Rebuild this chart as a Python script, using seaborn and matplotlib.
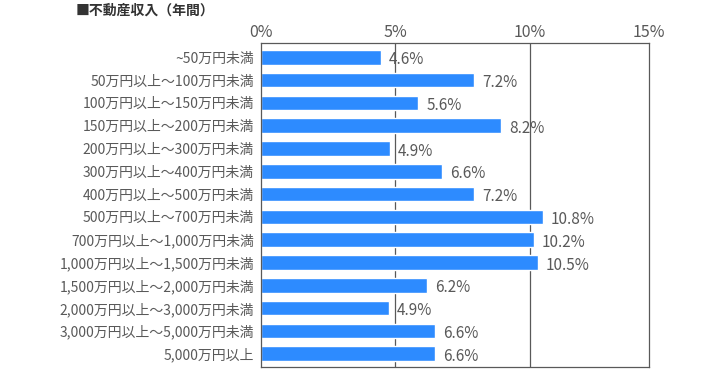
import numpy as np
import seaborn as sns
import pandas as pd
import matplotlib.pyplot as plt
import matplotlib.ticker as ticker

# Data
categories = ["~50万円未満", "50万円以上～100万円未満", "100万円以上～150万円未満",
              "150万円以上～200万円未満", "200万円以上～300万円未満", "300万円以上～400万円未満",
              "400万円以上～500万円未満", "500万円以上～700万円未満", "700万円以上～1,000万円未満",
              "1,000万円以上～1,500万円未満", "1,500万円以上～2,000万円未満",
              "2,000万円以上～3,000万円未満", "3,000万円以上～5,000万円未満", "5,000万円以上"]
# bar lengths as drawn in the picture (%)
bar_lengths = [4.46, 7.92, 5.84, 8.92, 4.80, 6.73, 7.92, 10.48, 10.15, 10.30, 6.17, 4.76, 6.47, 6.47]
# printed labels
labels = ["4.6%", "7.2%", "5.6%", "8.2%", "4.9%", "6.6%", "7.2%", "10.8%", "10.2%",
          "10.5%", "6.2%", "4.9%", "6.6%", "6.6%"]
xmax = 14.43
xticks = [0, 5, 10, xmax]
xticklabels = ["0%", "5%", "10%", "15%"]
title = "■不動産収入（年間）"

bar_color = "#2d8bff"
text_color = "#595959"

sns.set_style("white")
plt.rcParams['font.family'] = ['Noto Sans CJK JP', 'DejaVu Sans']

df = pd.DataFrame({"cat": categories, "val": bar_lengths})

fig = plt.figure(figsize=(7.24, 3.76), dpi=100)
ax = fig.add_axes([261 / 724, 1 - 367.3 / 376, 388 / 724, 324 / 376])

sns.barplot(data=df, x="val", y="cat", orient="h", color=bar_color,
            saturation=1, width=0.64, ax=ax)

ax.set_xlim(0, xmax)
ax.set_ylim(len(categories) - 0.4, -0.61)
ax.set_xticks(xticks)
ax.set_xticklabels(xticklabels)
ax.xaxis.tick_top()
ax.tick_params(axis='x', length=0, pad=2, labelsize=11.5, labelcolor=text_color)
ax.tick_params(axis='y', length=0, pad=5, labelsize=10, labelcolor=text_color)
ax.set_xlabel("")
ax.set_ylabel("")

for x in [5, 10]:
    ax.axvline(x, color="#595959", lw=0.9, zorder=0)

for side in ["top", "left", "right", "bottom"]:
    ax.spines[side].set_visible(True)
    ax.spines[side].set_color("#595959")
    ax.spines[side].set_linewidth(0.9)

for i, (v, lab) in enumerate(zip(bar_lengths, labels)):
    ax.text(v + 0.3, i + 0.12, lab, va="center", ha="left",
            fontsize=11, color=text_color)

fig.text(0.104, 0.972, title, fontsize=10, fontweight="bold",
         color="#333333", va="center", ha="left")

plt.savefig("out.png", dpi=100)
